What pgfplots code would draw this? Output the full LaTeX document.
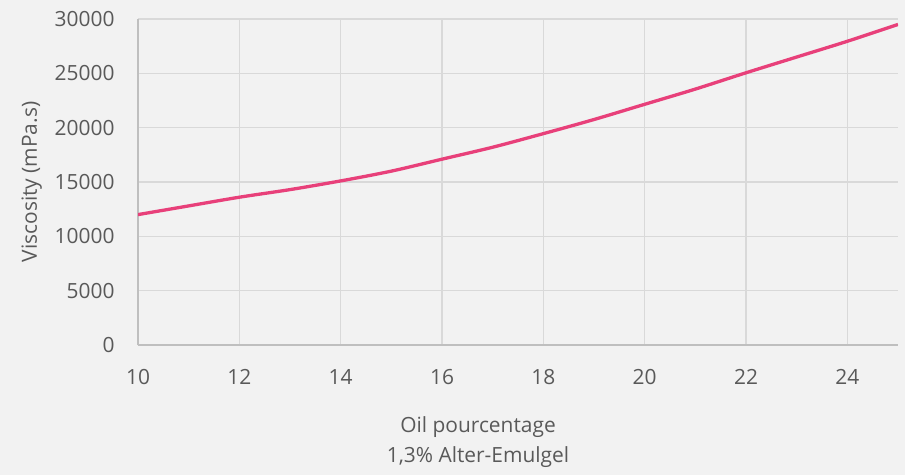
\documentclass[border=0pt]{standalone}
\usepackage{pgfplots}
\pgfplotsset{compat=1.18}
\usepackage{fontspec}
\setmainfont{Open Sans}
\definecolor{bg}{HTML}{F2F2F2}
\definecolor{gridc}{HTML}{D9D9D9}
\definecolor{axc}{HTML}{BFBFBF}
\definecolor{txt}{HTML}{595959}
\definecolor{linec}{HTML}{E8407A}
\begin{document}
\begin{tikzpicture}
\fill[bg] (0,0) rectangle (905bp,475bp);
\useasboundingbox (0,0) rectangle (905bp,475bp);
\begin{axis}[
  at={(138bp,130bp)}, anchor=south west,
  scale only axis, width=760bp, height=326bp,
  xmin=10, xmax=25, ymin=0, ymax=30000,
  xtick={10,12,...,24}, ytick={0,5000,...,30000},
  grid=major, major grid style={gridc, line width=1.1bp},
  axis x line*=bottom, axis y line*=left,
  axis line style={axc, line width=1.3bp},
  x axis line style={-}, y axis line style={-},
  tick style={draw=none},
  tick label style={font=\fontsize{21}{25}\selectfont, text=txt},
  /pgf/number format/assume math mode=true,
  scaled y ticks=false,
  yticklabel style={/pgf/number format/1000 sep={}, xshift=-20bp},
  xticklabel style={yshift=-21bp},
  xlabel={Oil pourcentage\\1,3\% Alter-Emulgel},
  xlabel style={font=\fontsize{21}{30}\selectfont, text=txt, align=center, yshift=-25bp, xshift=-40bp},
  ylabel={Viscosity (mPa.s)},
  ylabel style={font=\fontsize{21}{25}\selectfont, text=txt, yshift=6bp},
]
\addplot[linec, line width=3.3bp, smooth] coordinates {
(10,12000) (11,12800) (12,13600) (13,14300) (14,15100) (15,16000) (16,17100) (17,18200)
(18,19450) (19,20750) (20,22150) (21,23550) (22,25050) (23,26500) (24,27950) (25,29500)
};
\end{axis}
\end{tikzpicture}
\end{document}
